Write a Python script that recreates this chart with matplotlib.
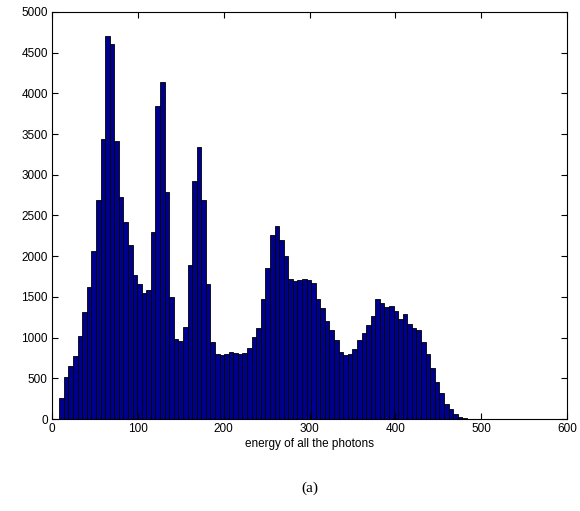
import matplotlib
matplotlib.use("Agg")
import matplotlib.pyplot as plt
import numpy as np

# Histogram data: 100 equal bins of photon energy
energy_min = 8.5
energy_max = 542.0
counts = [
    262, 512, 655, 770, 1020, 1310, 1620, 2060, 2686, 3436,
    4710, 4607, 3415, 2731, 2416, 2142, 1769, 1658, 1550, 1580,
    2293, 3845, 4136, 2793, 1503, 979, 958, 1130, 1896, 2924,
    3346, 2686, 1662, 950, 798, 790, 800, 827, 810, 794,
    814, 870, 1003, 1122, 1474, 1851, 2265, 2375, 2200, 2000,
    1722, 1699, 1705, 1720, 1710, 1670, 1474, 1360, 1208, 1093,
    965, 823, 782, 800, 860, 965, 1060, 1150, 1265, 1470,
    1429, 1380, 1392, 1327, 1225, 1286, 1167, 1122, 1093, 950,
    800, 630, 450, 320, 190, 120, 65, 30, 8, 4,
    3, 2, 2, 1, 1, 1, 0, 1, 0, 1,
]
x_ticks = [0, 100, 200, 300, 400, 500, 600]
y_ticks = list(range(0, 5001, 500))
x_label = "energy of all the photons"
caption = "(a)"

edges = np.linspace(energy_min, energy_max, len(counts) + 1)
centers = (edges[:-1] + edges[1:]) / 2
width = edges[1] - edges[0]

W, H = 580, 511
fig = plt.figure(figsize=(W / 100, H / 100), dpi=100)
ax = fig.add_axes([52 / W, 92 / H, (567 - 52) / W, (419 - 12) / H])

ax.bar(centers, counts, width=width, color=(0, 0, 0.5625),
       edgecolor="black", linewidth=0.6, align="center")

ax.set_xlim(0, 600)
ax.set_ylim(0, 5000)
ax.set_xticks(x_ticks)
ax.set_yticks(y_ticks)
ax.tick_params(direction="in", top=True, right=True, length=4, width=0.8,
               labelsize=8.5, pad=3)
for lab in ax.get_xticklabels() + ax.get_yticklabels():
    lab.set_family("Liberation Sans")
for s in ax.spines.values():
    s.set_linewidth(0.8)
ax.set_xlabel(x_label, fontsize=8.5, family="Liberation Sans", labelpad=2)

fig.text(310 / W, 1 - 488 / H, caption, ha="center", va="center",
         fontsize=11, family="Liberation Serif")

fig.savefig("out.png", dpi=100)
